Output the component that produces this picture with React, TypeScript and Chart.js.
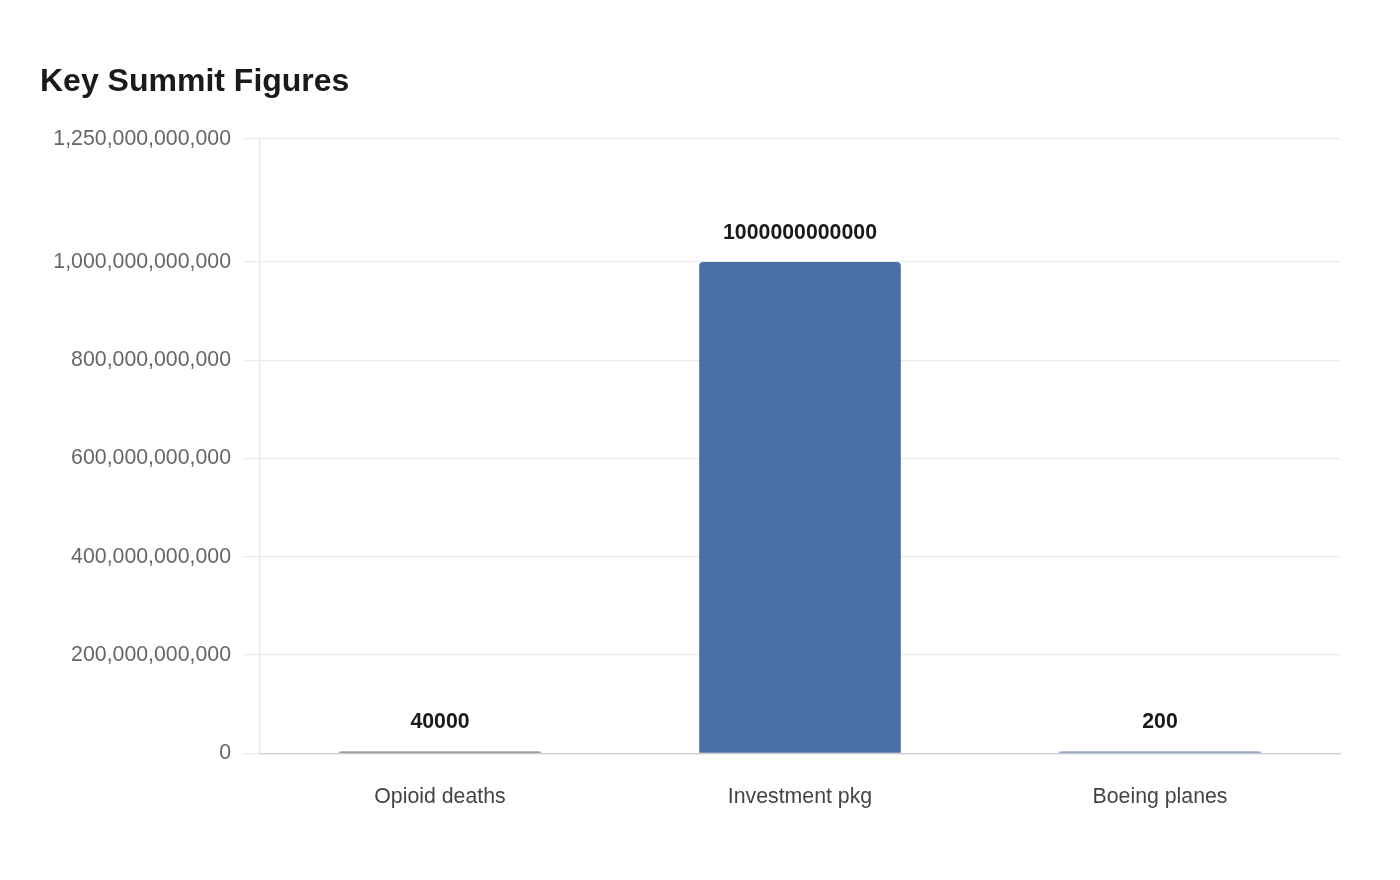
import React, { useEffect, useRef } from "react";
import { Chart, registerables } from "chart.js";

Chart.register(...registerables);

const TITLE = "Key Summit Figures";
const CATEGORIES = ["Opioid deaths", "Investment pkg", "Boeing planes"];
const VALUES = [40000, 1000000000000, 200];
const BAR_COLORS = ["#767d8a", "#4a6fa5", "#7089b0"];
const Y_TICKS = [0, 200000000000, 400000000000, 600000000000, 800000000000, 1000000000000, 1250000000000];

const FONT = "'Liberation Sans', Arial, Helvetica, sans-serif";

const valueLabels = {
  id: "valueLabels",
  afterDatasetsDraw(chart: any) {
    const ctx = chart.ctx;
    const meta = chart.getDatasetMeta(0);
    ctx.save();
    ctx.font = `bold 21.3px ${FONT}`;
    ctx.fillStyle = "#1a1a1a";
    ctx.textAlign = "center";
    ctx.textBaseline = "middle";
    meta.data.forEach((bar: any, i: number) => {
      ctx.fillText(String(VALUES[i]), bar.x, bar.y - 29);
    });
    ctx.restore();
  },
};

export default function App() {
  const ref = useRef<HTMLCanvasElement>(null);
  useEffect(() => {
    if (!ref.current) return;
    const chart = new Chart(ref.current, {
      type: "bar",
      data: {
        labels: CATEGORIES,
        datasets: [
          {
            data: VALUES,
            backgroundColor: BAR_COLORS,
            borderRadius: { topLeft: 4, topRight: 4, bottomLeft: 0, bottomRight: 0 },
            borderSkipped: "bottom",
            minBarLength: 2,
            barPercentage: 0.7,
            categoryPercentage: 0.8,
          },
        ],
      },
      options: {
        animation: false,
        responsive: true,
        maintainAspectRatio: false,
        layout: { padding: { top: 40, left: 40, right: 60, bottom: 47 } },
        plugins: {
          legend: { display: false },
          tooltip: { enabled: false },
          title: {
            display: true,
            text: TITLE,
            align: "start",
            color: "#1a1a1a",
            font: { family: FONT, size: 32, weight: "bold" },
            padding: { top: 23, bottom: 37.6 },
          },
        },
        scales: {
          x: {
            grid: { display: false },
            border: { display: true, color: "#cccccc", width: 1.3 },
            ticks: {
              color: "#444444",
              font: { family: FONT, size: 21.3 },
              padding: 23,
            },
          },
          y: {
            min: 0,
            max: 1250000000000,
            afterBuildTicks: (scale: any) => {
              scale.ticks = Y_TICKS.map((v) => ({ value: v }));
            },
            afterFit: (scale: any) => {
              scale.width = 220;
            },
            grid: { color: "#ebebeb", lineWidth: 1.3, tickLength: 17 },
            border: { display: true, color: "#e3e3e3", width: 1.3 },
            ticks: {
              color: "#666666",
              font: { family: FONT, size: 21.3 },
              padding: 12,
              callback: (v: any) => Number(v).toLocaleString("en-US"),
            },
          },
        },
      },
      plugins: [valueLabels],
    });
    return () => chart.destroy();
  }, []);
  return (
    <div style={{ position: "fixed", left: 0, top: 0, width: 1400, height: 880, background: "#ffffff" }}>
      <canvas ref={ref} />
    </div>
  );
}
